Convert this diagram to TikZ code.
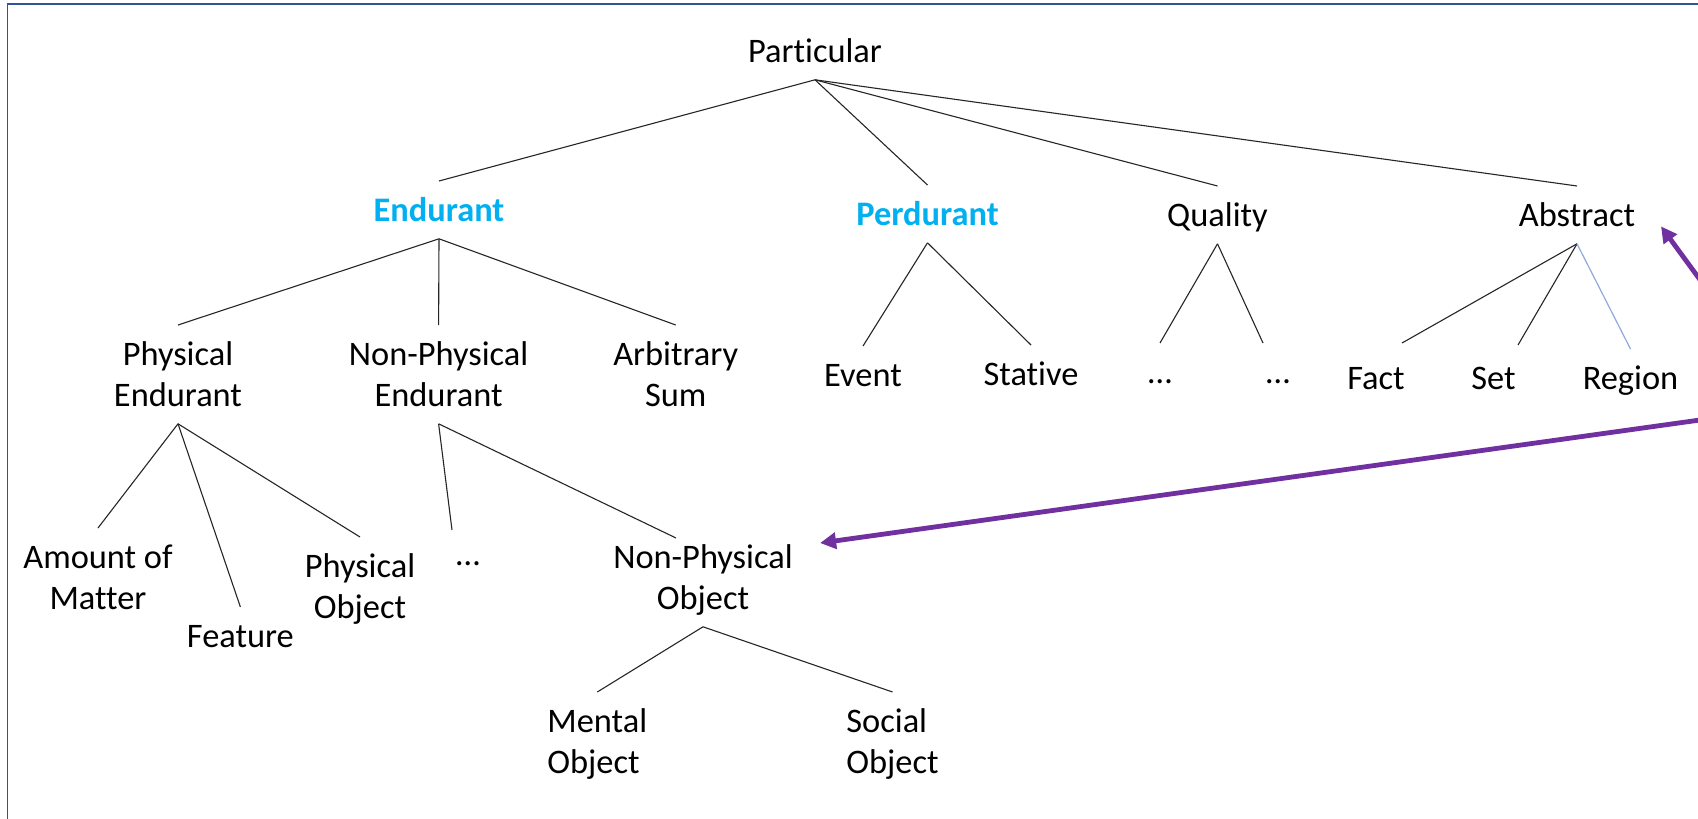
\documentclass[tikz,border=0pt]{standalone}
\usepackage{fontspec}
\setmainfont{Carlito}[Ligatures={NoCommon,NoContextual}]
\usetikzlibrary{calc,arrows.meta}
\definecolor{cyanT}{RGB}{0,176,240}
\definecolor{purp}{RGB}{112,48,160}
\definecolor{frameblue}{RGB}{47,85,151}
\definecolor{regblue}{RGB}{143,170,220}
\newcommand\ts{\rule[-4pt]{0pt}{19.5pt}}
\begin{document}
\begin{tikzpicture}[x=0.5pt,y=-0.5pt,
 lbl/.style={inner xsep=0pt, inner ysep=4.5pt, anchor=north, align=center, font=\fontsize{17.2}{20.5}\selectfont},
 hd/.style={lbl, font=\fontsize{17.2}{20.5}\selectfont\bfseries, text=cyanT},
 edge/.style={draw=black!85, line width=0.55pt},
 regedge/.style={draw=regblue, line width=0.6pt},
 parr/.style={draw=purp, line width=2.4pt, -{Triangle[length=8pt,width=8pt]}}]
\useasboundingbox (0,0) rectangle (1698,819);
\clip (0,0) rectangle (1698,819);
\fill[white] (0,0) rectangle (1698,819);
\draw[frameblue, line width=0.8pt] (7.5,830) -- (7.5,4) -- (1710,4);

% nodes
\node[lbl] (part) at (815,22) {\ts Particular};
\node[hd] (endu) at (439,181) {\ts Endurant};
\node[hd] (perd) at (927.5,185) {\ts Perdurant};
\node[lbl] (qual) at (1217.5,186) {\ts Quality};
\node[lbl] (abst) at (1577,186) {\ts Abstract};
\node[lbl] (pe) at (178,325) {\ts Physical\\\ts Endurant};
\node[lbl] (npe) at (438.6,325) {\ts Non-Physical\\\ts Endurant};
\node[lbl] (as) at (675.7,325) {\ts Arbitrary\\\ts Sum};
\node[lbl] (event) at (863,346) {\ts Event};
\node[lbl] (stat) at (1031,345) {\ts Stative};
\node[lbl] (qd1) at (1160,343) {\ts …};
\node[lbl] (qd2) at (1278,343) {\ts …};
\node[lbl] (fact) at (1376,349) {\ts Fact};
\node[lbl] (set) at (1493.5,349) {\ts Set};
\node[lbl] (region) at (1630.5,349) {\ts Region};
\node[lbl] (aom) at (98,528) {\ts Amount of\\\ts Matter};
\node[lbl] (feat) at (240.4,607) {\ts Feature};
\node[lbl] (po) at (360,537) {\ts Physical\\\ts Object};
\node[lbl] (nd) at (468,525) {\ts …};
\node[lbl] (npo) at (703,528) {\ts Non-Physical\\\ts Object};
\node[lbl, anchor=north west, align=left] (mo) at (547,692) {\ts Mental\\\ts Object};
\node[lbl, anchor=north west, align=left] (so) at (846,692) {\ts Social\\\ts Object};
\coordinate (src) at (1793,407);

% connectors
\draw[edge] (part.south) -- (endu.north);
\draw[edge] (part.south) -- (perd.north);
\draw[edge] (part.south) -- (qual.north);
\draw[edge] (part.south) -- (abst.north);
\draw[edge] (endu.south) -- (pe.north);
\draw[edge] (endu.south) -- (npe.north);
\draw[edge] (endu.south) -- (as.north);
\draw[edge] (perd.south) -- (event.north);
\draw[edge] (perd.south) -- (stat.north);
\draw[edge] (qual.south) -- (qd1.north);
\draw[edge] (qual.south) -- ($(qd2.north)+(-15,0)$);
\draw[edge] (abst.south) -- ($(fact.north)+(26,-6)$);
\draw[edge] (abst.south) -- ($(set.north)+(24.5,-4)$);
\draw[regedge] (abst.south) -- (region.north);
\draw[edge] (pe.south) -- (aom.north);
\draw[edge] (pe.south) -- (feat.north);
\draw[edge] (pe.south) -- (po.north);
\draw[edge] (npe.south) -- ($(nd.north)+(-16,5)$);
\draw[edge] (npe.south) -- ($(npo.north)+(-27,10)$);
\draw[edge] (npo.south) -- (mo.north);
\draw[edge] (npo.south) -- (so.north);

% purple arrows
\draw[parr] (src) -- ($(abst.east)+(25.5,11.5)$);
\draw[parr] (src) -- ($(npo.north east)+(27,15)$);
\end{tikzpicture}
\end{document}
